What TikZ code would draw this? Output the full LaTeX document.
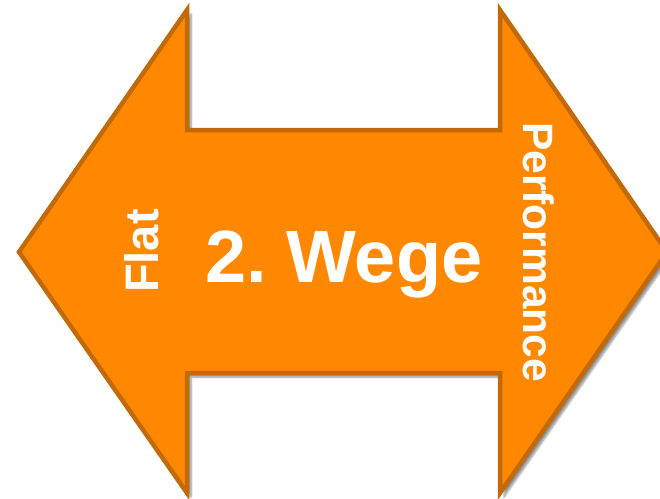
\documentclass[tikz,border=0pt]{standalone}
\usepackage{fontspec}
\setmainfont{Liberation Sans}
\usetikzlibrary{shadows.blur}
\definecolor{arrowfill}{HTML}{FF8800}
\definecolor{arrowline}{HTML}{C26A08}
\begin{document}
\begin{tikzpicture}[x=1pt,y=-1pt,
  arrowshape/.style={fill=arrowfill,draw=arrowline,line width=4.5pt,line join=miter,
    blur shadow={shadow xshift=4pt,shadow yshift=-4pt,shadow blur steps=6,shadow opacity=45}},
  lbl/.style={text=white,font=\bfseries,inner sep=0pt}]
\useasboundingbox (0,0) rectangle (660,498);
\begin{scope}
\clip (0,0) rectangle (660,498);
\path[arrowshape] (19,252) -- (187,10) -- (187,130) -- (500,130) -- (500,10) -- (667,252)
  -- (500,493) -- (500,373) -- (187,373) -- (187,493) -- cycle;
\end{scope}
\node[lbl,anchor=base,font=\bfseries\fontsize{74}{74}\selectfont] (title) at (344,282) {2.\hspace{0.26em}Wege};
\node[lbl,rotate=90,font=\bfseries\fontsize{47}{47}\selectfont] (flat) at (142,251) {Flat};
\node[lbl,rotate=-90,font=\bfseries\fontsize{42.5}{42.5}\selectfont] (perf) at (539,252) {Performance};
\end{tikzpicture}
\end{document}
